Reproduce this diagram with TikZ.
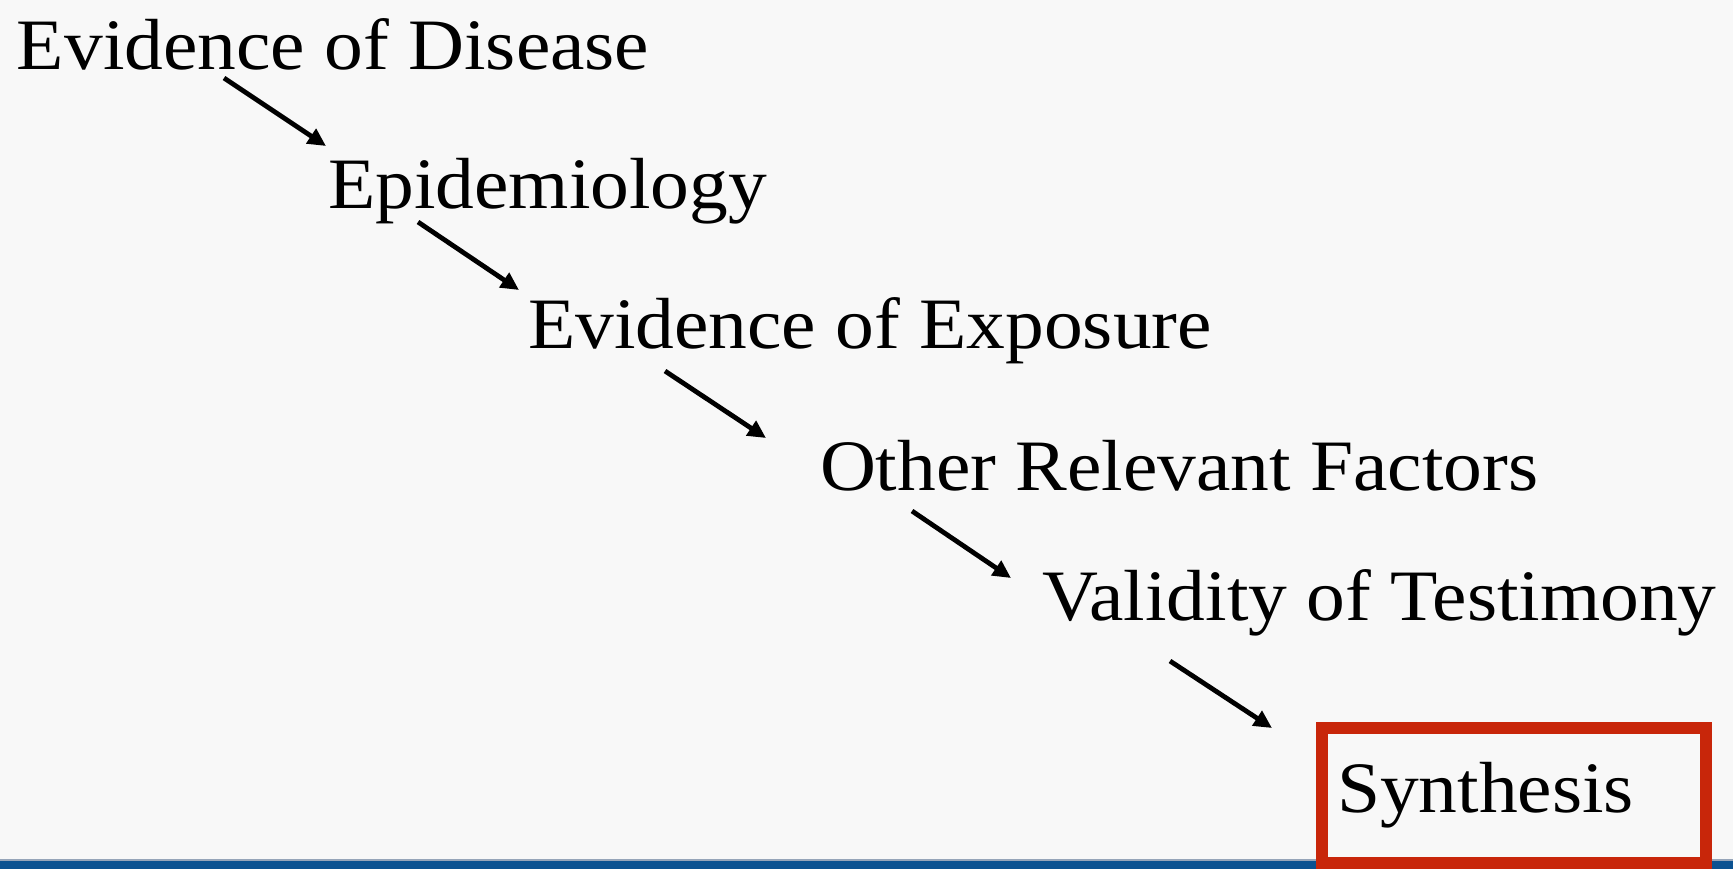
\documentclass[tikz,border=0pt]{standalone}
\usepackage{fontspec}
\setmainfont{Liberation Serif}[FakeStretch=1.07]
\usetikzlibrary{arrows.meta}
\definecolor{bgc}{RGB}{248,248,248}
\definecolor{barblue}{RGB}{11,82,145}
\definecolor{barline}{RGB}{150,165,185}
\definecolor{boxred}{RGB}{200,38,10}
\tikzset{
  lbl/.style={anchor=base west, inner sep=0pt, outer sep=0pt, font=\fontsize{36.2pt}{40pt}\selectfont, text=black},
  flow/.style={draw=black, line width=2.4pt, -{Triangle[length=9pt,width=8.5pt]}},
}
\begin{document}
\begin{tikzpicture}[x=0.5pt,y=-0.5pt]
\useasboundingbox (0,0) rectangle (1733,869);
\fill[bgc] (0,0) rectangle (1733,869);
\fill[barline] (0,859) rectangle (1733,861);
\fill[barblue] (0,861) rectangle (1733,869);
\node[lbl] (n1) at (17,69) {Evidence of Disease};
\node[lbl] (n2) at (328,208) {Epidemiology};
\node[lbl] (n3) at (528,348) {Evidence of Exposure};
\node[lbl] (n4) at (820,490) {Other Relevant Factors};
\node[lbl] (n5) at (1042,620) {Validity of Testimony};
\node[lbl] (n6) at (1337,812) {Synthesis};
\draw[boxred, line width=6pt] (1322,728) rectangle (1706,863);
\coordinate (a1s) at (224,78);   \coordinate (a1e) at (326,146);
\coordinate (a2s) at (418,222);  \coordinate (a2e) at (519,290);
\coordinate (a3s) at (665,371);  \coordinate (a3e) at (766,438);
\coordinate (a4s) at (912,511);  \coordinate (a4e) at (1011,578);
\coordinate (a5s) at (1170,661); \coordinate (a5e) at (1272,728);
\draw[flow] (a1s) -- (a1e);
\draw[flow] (a2s) -- (a2e);
\draw[flow] (a3s) -- (a3e);
\draw[flow] (a4s) -- (a4e);
\draw[flow] (a5s) -- (a5e);
\end{tikzpicture}
\end{document}
